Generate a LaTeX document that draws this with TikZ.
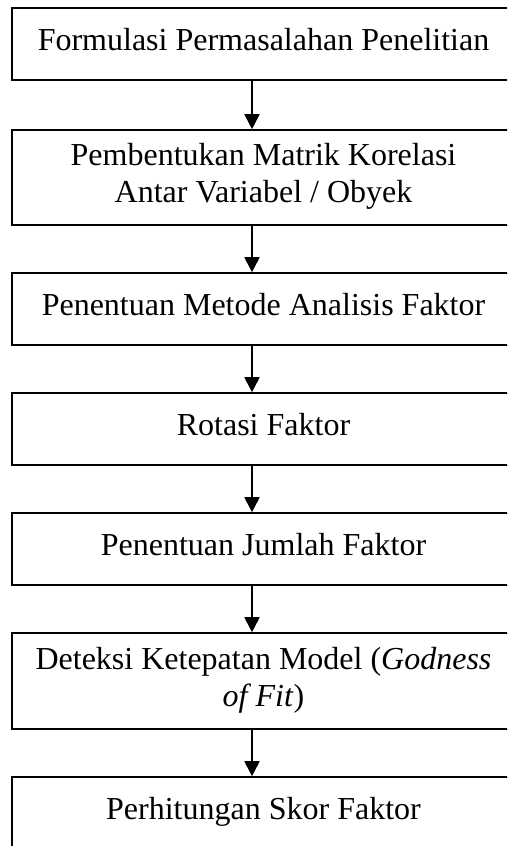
\documentclass[tikz,border=0pt]{standalone}
\usepackage{fontspec}
\setmainfont{Liberation Serif}
\usetikzlibrary{arrows.meta}

\begin{document}
\begin{tikzpicture}[
  x=1pt,
  y=-1pt,
  font=\fontsize{32}{37}\selectfont,
  proses/.style={draw, line width=1.6pt, minimum width=503pt, align=center, inner sep=0pt, text depth=9pt},
  arr/.style={-{Triangle[width=15pt,length=15pt]}, line width=1.8pt}
]
\useasboundingbox (0,0) rectangle (507,846);
\clip (0,0) rectangle (507,846);

% Kotak-kotak tahapan
\node[proses, minimum height=72pt] (rumusan) at (263.5,44) {Formulasi Permasalahan Penelitian};
\node[proses, minimum height=95pt] (matrik) at (263.5,177.5) {Pembentukan Matrik Korelasi\\Antar Variabel / Obyek};
\node[proses, minimum height=72pt] (metode) at (263.5,309) {Penentuan Metode Analisis Faktor};
\node[proses, minimum height=72pt] (rotasi) at (263.5,429) {Rotasi Faktor};
\node[proses, minimum height=72pt] (jumlah) at (263.5,549) {Penentuan Jumlah Faktor};
\node[proses, minimum height=96pt] (deteksi) at (263.5,681) {Deteksi Ketepatan Model (\textit{Godness}\\\textit{of Fit})};
\node[proses, minimum height=72pt] (skor) at (263.5,813) {Perhitungan Skor Faktor};

% Garis panah
\coordinate (poros) at (252,0);
\draw[arr] (rumusan.south -| poros) -- (matrik.north -| poros);
\draw[arr] (matrik.south -| poros) -- (metode.north -| poros);
\draw[arr] (metode.south -| poros) -- (rotasi.north -| poros);
\draw[arr] (rotasi.south -| poros) -- (jumlah.north -| poros);
\draw[arr] (jumlah.south -| poros) -- (deteksi.north -| poros);
\draw[arr] (deteksi.south -| poros) -- (skor.north -| poros);

\end{tikzpicture}
\end{document}
